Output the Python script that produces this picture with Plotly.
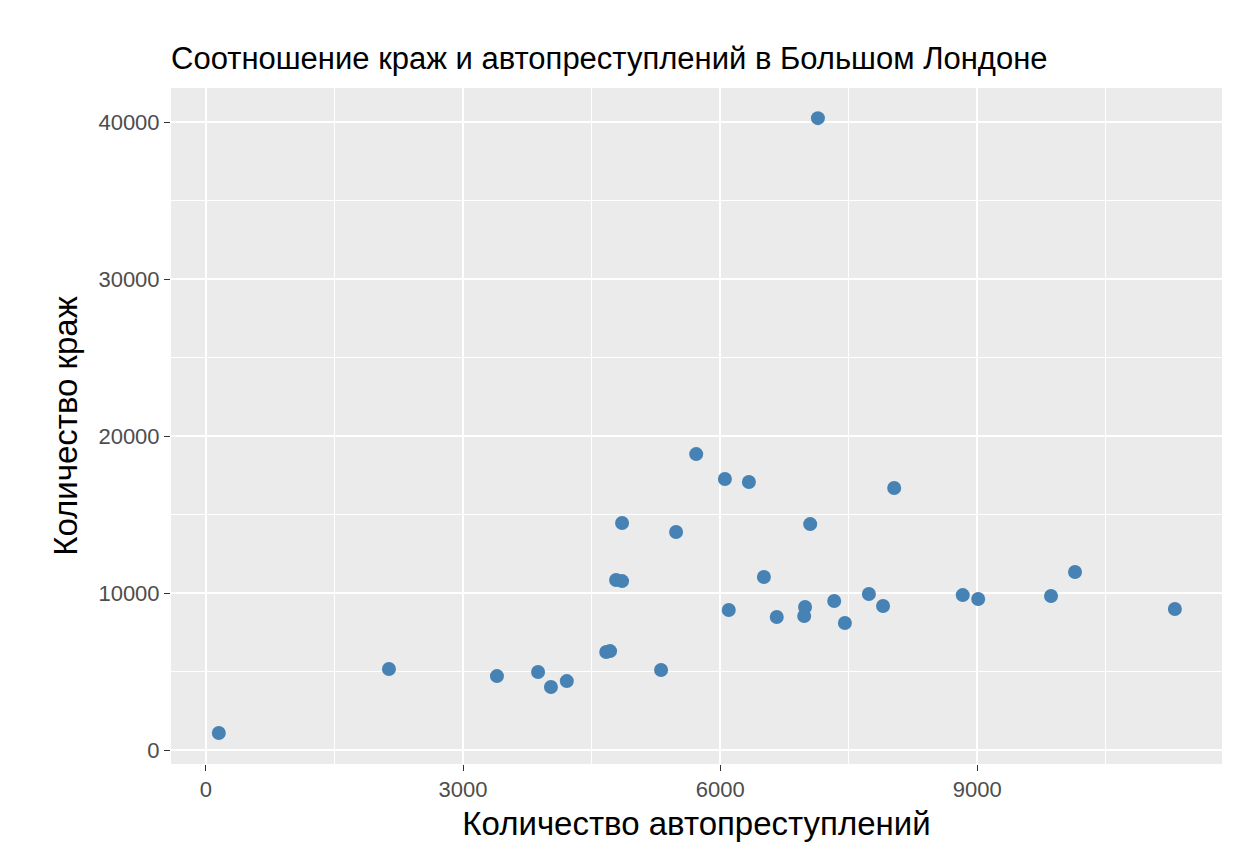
import plotly.graph_objects as go

vehicle_crimes = [150, 2135, 3395, 3875, 4025, 4210, 4670, 4715, 4785, 4855, 4855, 5310, 5485,
                  5720, 6055, 6100, 6335, 6510, 6660, 6980, 6990, 7050, 7140, 7330, 7455,
                  7735, 7900, 8030, 8830, 9010, 9860, 10140, 11305]
thefts = [1080, 5160, 4710, 4970, 4010, 4390, 6240, 6300, 10830, 10760, 14460, 5100, 13890,
          18850, 17260, 8920, 17070, 11020, 8470, 8540, 9110, 14390, 40250, 9490, 8090,
          9940, 9170, 16690, 9870, 9620, 9810, 11340, 8980]

fig = go.Figure(go.Scatter(
    x=vehicle_crimes, y=thefts, mode="markers",
    marker=dict(color="#4682b4", size=14, line=dict(width=0)),
))

axis_common = dict(
    showgrid=True, gridcolor="white", gridwidth=2,
    zeroline=False, showline=False, automargin=False,
    ticks="outside", ticklen=6, tickcolor="#333333", tickwidth=1.2,
    tickformat="d",
    tickfont=dict(size=22, color="#4d4d4d", family="Liberation Sans"),
)

fig.update_layout(
    width=1234, height=864,
    paper_bgcolor="white", plot_bgcolor="#ebebeb",
    margin=dict(l=163, r=20, t=80, b=108),
    title=dict(text="Соотношение краж и автопреступлений в Большом Лондоне",
               x=163 / 1234, xref="container", xanchor="left", y=0.955,
               font=dict(size=31, color="black", family="Liberation Sans")),
    showlegend=False,
    xaxis=dict(**axis_common, range=[-408, 11855], tickvals=[0, 3000, 6000, 9000],
               minor=dict(tickvals=[1500, 4500, 7500, 10500], showgrid=True,
                          gridcolor="white", gridwidth=1, ticks=""),
               title=dict(text="Количество автопреступлений", standoff=10,
                          font=dict(size=33, color="black", family="Liberation Sans"))),
    yaxis=dict(**axis_common, range=[-890, 42170], tickvals=[0, 10000, 20000, 30000, 40000],
               minor=dict(tickvals=[5000, 15000, 25000, 35000], showgrid=True,
                          gridcolor="white", gridwidth=1, ticks=""),
               title=dict(text="Количество краж", standoff=10,
                          font=dict(size=33, color="black", family="Liberation Sans"))),
)

fig.write_html("out.html")
